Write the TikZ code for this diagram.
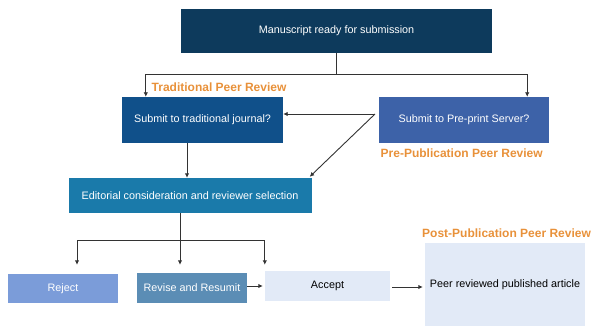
\documentclass[tikz,border=0pt]{standalone}
\usepackage{fontspec}
\setmainfont{Liberation Sans}
\usepackage{xcolor}
\usetikzlibrary{arrows.meta}

\definecolor{navy}{HTML}{0D3A5C}
\definecolor{tradblue}{HTML}{10508A}
\definecolor{preblue}{HTML}{3D62A8}
\definecolor{editblue}{HTML}{1A7AAA}
\definecolor{rejblue}{HTML}{7B9CD9}
\definecolor{revblue}{HTML}{5B8DB5}
\definecolor{paleblue}{HTML}{E2EAF7}
\definecolor{peerorange}{HTML}{E8913A}
\definecolor{linegray}{HTML}{333333}

\begin{document}
\begin{tikzpicture}[x=1pt, y=-1pt,
    box/.style={inner sep=0pt, text=white, font=\fontsize{10.8}{12}\selectfont},
    lbl/.style={anchor=west, inner sep=0pt, text=peerorange, font=\fontsize{12}{14}\selectfont\bfseries},
    arr/.style={-{Latex[length=4.5pt,width=4.5pt]}, linegray, line width=0.9pt},
    ln/.style={linegray, line width=0.9pt}]

    \useasboundingbox (0,0) rectangle (593,326);

    % Boxes
    \node[box, fill=navy, minimum width=311pt, minimum height=44pt] (top) at (336.5,31) {Manuscript ready for submission};
    \node[box, fill=tradblue, minimum width=161pt, minimum height=46pt] (trad) at (202.5,120) {Submit to traditional journal?};
    \node[box, fill=preblue, minimum width=170pt, minimum height=46pt] (preprint) at (464,120) {Submit to Pre-print Server?};
    \node[box, fill=editblue, minimum width=243pt, minimum height=35pt] (edit) at (190,195.5) {Editorial consideration and reviewer selection};

    \node[box, fill=rejblue, minimum width=110pt, minimum height=29pt] (reject) at (63,288.5) {Reject};
    \node[box, fill=revblue, minimum width=110pt, minimum height=30pt] (revise) at (192,288) {Revise and Resumit};
    \node[box, fill=paleblue, text=black, minimum width=125pt, minimum height=30pt] (accept) at (327.5,286) {Accept};
    \node[box, fill=paleblue, text=black, minimum width=160pt, minimum height=83pt] (peer) at (505,284.5) {Peer reviewed published article};

    % Labels
    \node[lbl] (tradlbl) at (151.5,87) {Traditional Peer Review};
    \node[lbl] (prelbl) at (380.5,153) {Pre-Publication Peer Review};
    \node[lbl] (postlbl) at (422,233) {Post-Publication Peer Review};

    % Split after manuscript
    \coordinate (split) at (336.5,74);
    \draw[ln] (top.south) -- (split);
    \draw[arr] (split) -| ([xshift=24pt]trad.north west);
    \draw[arr] (split) -| ([xshift=-22pt]preprint.north east);

    % Pre-print back to journal and editorial
    \coordinate (fork) at (375,114);
    \draw[arr] (fork) -- (trad.east |- fork);
    \draw[arr] (fork) -- ([shift={(-2pt,1pt)}]edit.north east);
    \draw[arr] ([xshift=-15.5pt]trad.south) -- ([xshift=-15.5pt]trad.south |- edit.north);

    % Decisions
    \coordinate (hub) at (180,240);
    \draw[arr, shorten >=8pt] (edit.south -| hub) -- (hub |- revise.north);
    \draw[arr] (hub) -| ([xshift=14pt,yshift=9pt]reject.north);
    \draw[arr] (hub) -| ([yshift=6pt]accept.north west);

    \draw[arr, shorten >=2pt] (revise.east |- 0,286) -- (accept.west);
    \draw[arr, shorten <=2pt, shorten >=2pt] (accept.east |- 0,287) -- (peer.west |- 0,287);

\end{tikzpicture}
\end{document}
